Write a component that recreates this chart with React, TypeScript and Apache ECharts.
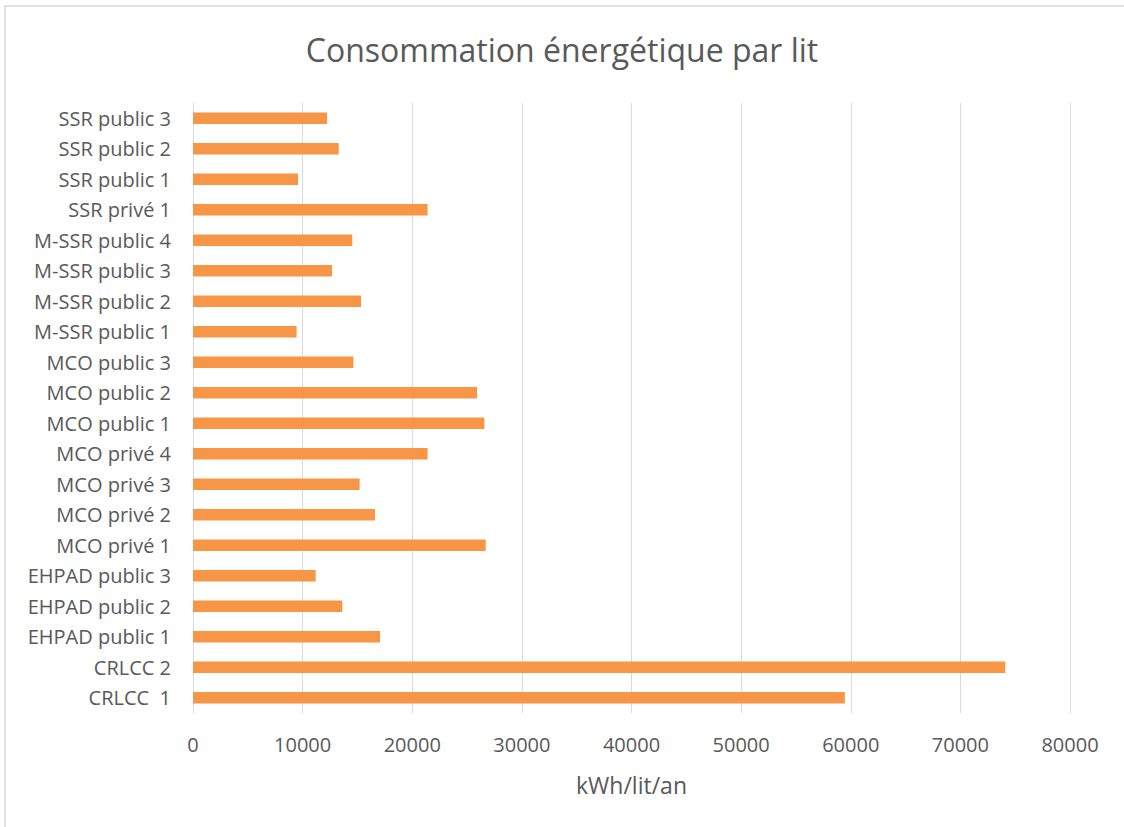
import React, { useEffect, useRef } from "react";
import * as echarts from "echarts";

const categories = [
  "CRLCC  1",
  "CRLCC 2",
  "EHPAD public 1",
  "EHPAD public 2",
  "EHPAD public 3",
  "MCO privé 1",
  "MCO privé 2",
  "MCO privé 3",
  "MCO privé 4",
  "MCO public 1",
  "MCO public 2",
  "MCO public 3",
  "M-SSR public 1",
  "M-SSR public 2",
  "M-SSR public 3",
  "M-SSR public 4",
  "SSR privé 1",
  "SSR public 1",
  "SSR public 2",
  "SSR public 3",
];

const values = [
  59460, 74100, 17060, 13620, 11190, 26700, 16600, 15200, 21400, 26580,
  25910, 14630, 9450, 15330, 12680, 14530, 21400, 9580, 13290, 12230,
];

const titleText = "Consommation énergétique par lit";
const xAxisName = "kWh/lit/an";

export default function App() {
  const ref = useRef<HTMLDivElement>(null);
  useEffect(() => {
    if (!ref.current) return;
    const chart = echarts.init(ref.current, undefined, { renderer: "svg" });
    const font = "'Open Sans', sans-serif";
    chart.setOption({
      animation: false,
      backgroundColor: "#ffffff",
      title: {
        text: titleText,
        left: "center",
        top: 28,
        textStyle: {
          fontFamily: font,
          fontSize: 32,
          fontWeight: "normal",
          color: "#595959",
        },
      },
      graphic: [
        {
          type: "rect",
          shape: { x: 5, y: 6, width: 1130, height: 840 },
          style: { fill: "none", stroke: "#d9d9d9", lineWidth: 1.5 },
          silent: true,
          z: -1,
        },
      ],
      grid: { left: 193, right: 54, top: 103, bottom: 114, containLabel: false },
      xAxis: {
        type: "value",
        min: 0,
        max: 80000,
        interval: 10000,
        name: xAxisName,
        nameLocation: "middle",
        nameGap: 60,
        nameTextStyle: { fontFamily: font, fontSize: 23, color: "#595959" },
        axisLine: { show: false },
        axisTick: { show: false },
        axisLabel: {
          fontFamily: font,
          fontSize: 20,
          color: "#595959",
          margin: 21,
          formatter: (v: number) => String(v),
        },
        splitLine: { show: true, lineStyle: { color: "#d9d9d9", width: 1 } },
      },
      yAxis: {
        type: "category",
        data: categories,
        axisLine: { show: true, lineStyle: { color: "#d9d9d9", width: 1 } },
        axisTick: { show: false },
        axisLabel: {
          fontFamily: font,
          fontSize: 20,
          color: "#595959",
          margin: 22,
        },
      },
      series: [
        {
          type: "bar",
          data: values,
          barWidth: "38%",
          itemStyle: { color: "#F79646" },
        },
      ],
    });
    return () => chart.dispose();
  }, []);
  return (
    <div
      ref={ref}
      style={{ position: "fixed", left: 0, top: 0, width: 1124, height: 827 }}
    />
  );
}
